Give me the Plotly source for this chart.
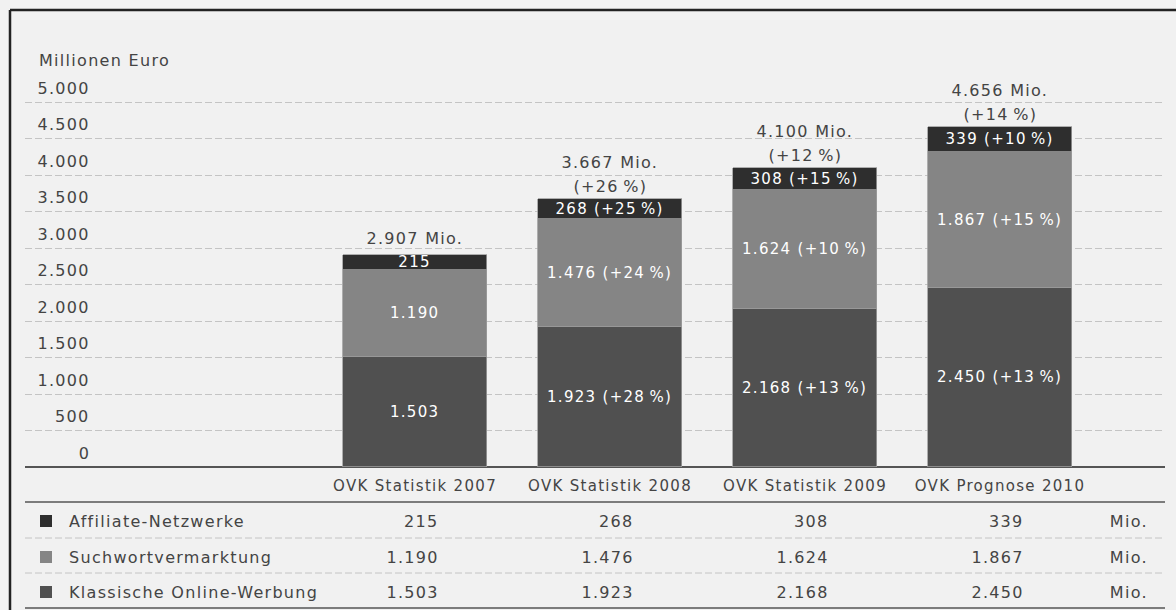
import plotly.graph_objects as go

# ---------------- data ----------------
categories = ["OVK Statistik 2007", "OVK Statistik 2008", "OVK Statistik 2009", "OVK Prognose 2010"]
series_names = ["Affiliate-Netzwerke", "Suchwortvermarktung", "Klassische Online-Werbung"]
klassisch = [1503, 1923, 2168, 2450]
suchwort = [1190, 1476, 1624, 1867]
affiliate = [215, 268, 308, 339]
growth_klassisch = [None, 28, 13, 13]
growth_suchwort = [None, 24, 10, 15]
growth_affiliate = [None, 25, 15, 10]
totals = [2907, 3667, 4100, 4656]
growth_totals = [None, 26, 12, 14]
y_ticks = [0, 500, 1000, 1500, 2000, 2500, 3000, 3500, 4000, 4500, 5000]
y_title = "Millionen Euro"
unit = "Mio."

# ---------------- style ----------------
C_AFF = "#2e2e2e"
C_SUCH = "#858585"
C_KLASS = "#505050"
BG = "#f1f1f1"
TXT = "#444444"
GRID = "#c4c4c4"
FONT = "DejaVu Sans"
FS = 16

W, H = 1176, 610
L, R, T, B = 25, 11, 96, 143
PW, PH = W - L - R, H - T - B
Y0_PX, Y5000_PX = 467, 102
Y_TOP = 5000 * (Y0_PX - T) / (Y0_PX - Y5000_PX)


def px(xp):
    return (xp - L) / PW


def py(yp):
    return (H - B - yp) / PH


def de(n):
    return f"{n:,}".replace(",", ".")


def lab(v, g):
    return de(v) if g is None else f"{de(v)} (+{g}\u2009%)"


xpos = list(range(len(categories)))

fig = go.Figure()
for vals, gr, col in [(klassisch, growth_klassisch, C_KLASS),
                      (suchwort, growth_suchwort, C_SUCH),
                      (affiliate, growth_affiliate, C_AFF)]:
    fig.add_trace(go.Bar(
        x=xpos, y=vals, width=0.74,
        marker=dict(color=col, line=dict(color="#9c9c9c", width=0.8)),
        text=[lab(v, g) for v, g in zip(vals, gr)],
        textposition="inside", insidetextanchor="middle", constraintext="none",
        textangle=0, textfont=dict(color="white", size=15, family=FONT),
        hoverinfo="skip", cliponaxis=False,
    ))

ann = []
# totals above bars
for i, (t, g) in enumerate(zip(totals, growth_totals)):
    if g is None:
        ann.append(dict(x=i, y=t, xref="x", yref="y", text=f"{de(t)} {unit}",
                        showarrow=False, yanchor="bottom", yshift=5))
    else:
        ann.append(dict(x=i, y=t, xref="x", yref="y", text=f"(+{g}\u2009%)",
                        showarrow=False, yanchor="bottom", yshift=1))
        ann.append(dict(x=i, y=t, xref="x", yref="y", text=f"{de(t)} {unit}",
                        showarrow=False, yanchor="bottom", yshift=25))

# y tick labels above gridlines
for v in y_ticks:
    ann.append(dict(x=px(92), y=v, xref="paper", yref="y", text=de(v),
                    showarrow=False, xanchor="right", align="right",
                    yanchor="middle", yshift=14))

ann.append(dict(x=px(37), y=py(60), xref="paper", yref="paper", text=y_title,
                showarrow=False, xanchor="left", align="left", yanchor="middle"))

# table
rows = [(series_names[0], affiliate, C_AFF, 521),
        (series_names[1], suchwort, C_SUCH, 557),
        (series_names[2], klassisch, C_KLASS, 592)]
shapes = []
for name, vals, col, yp in rows:
    shapes.append(dict(type="rect", xref="paper", yref="paper",
                       x0=px(40), x1=px(52), y0=py(yp - 6), y1=py(yp + 6),
                       fillcolor=col, line=dict(width=0)))
    ann.append(dict(x=px(67), y=py(yp), xref="paper", yref="paper", text=name,
                    showarrow=False, xanchor="left", align="left", yanchor="middle"))
    for i, v in enumerate(vals):
        ann.append(dict(x=i, y=py(yp), xref="x", yref="paper", text=de(v),
                        showarrow=False, xanchor="right", align="right",
                        yanchor="middle", xshift=26))
    ann.append(dict(x=px(1150), y=py(yp), xref="paper", yref="paper", text=unit,
                    showarrow=False, xanchor="right", align="right", yanchor="middle"))

for yp, dash, col, w in [(502, "solid", "#555555", 1.5), (538, "7px,3px", GRID, 1),
                         (573, "7px,3px", GRID, 1), (608, "solid", "#555555", 1.5)]:
    shapes.append(dict(type="line", xref="paper", yref="paper", x0=0, x1=1,
                       y0=py(yp), y1=py(yp), line=dict(color=col, width=w, dash=dash)))

# frame
shapes.append(dict(type="line", xref="paper", yref="paper", x0=px(10), x1=px(1176),
                   y0=py(10), y1=py(10), line=dict(color="#222222", width=2.5)))
shapes.append(dict(type="line", xref="paper", yref="paper", x0=px(10), x1=px(10),
                   y0=py(10), y1=py(610), line=dict(color="#222222", width=2.5)))

fig.update_layout(
    width=W, height=H, margin=dict(l=L, r=R, t=T, b=B),
    barmode="stack", showlegend=False, bargap=0,
    paper_bgcolor=BG, plot_bgcolor=BG,
    font=dict(family=FONT, size=FS, color=TXT),
    annotations=ann, shapes=shapes,
    xaxis=dict(range=[-2, 3.846], tickvals=xpos, ticktext=categories, showgrid=False,
               zeroline=False, showline=False, ticks="", tickfont=dict(size=15, color=TXT),
               ticklabelstandoff=8, fixedrange=True),
    yaxis=dict(range=[0, Y_TOP], tickvals=y_ticks, showticklabels=False, showgrid=True,
               gridcolor=GRID, griddash="7px,3px", gridwidth=1, zeroline=True,
               zerolinecolor="#555555", zerolinewidth=1.5, fixedrange=True),
)

post = """
document.body.style.margin = '0';
document.body.style.background = '#ffffff';
document.querySelectorAll('svg text').forEach(function(t){ t.style.letterSpacing = '1.3px'; });
"""

fig.write_html("out.html", post_script=post, config={"displayModeBar": False})
